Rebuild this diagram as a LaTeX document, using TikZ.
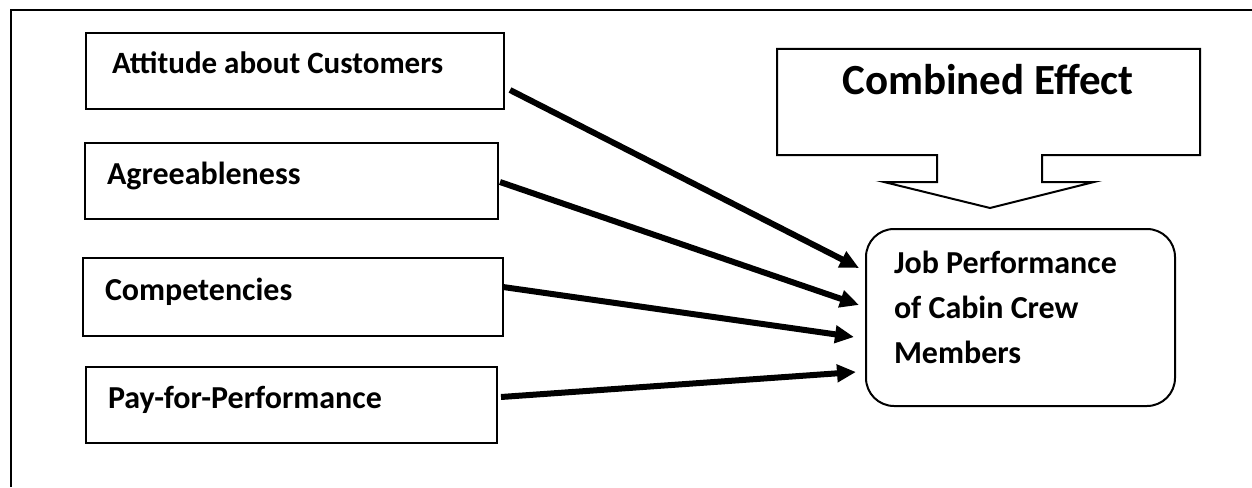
\documentclass[tikz,border=0pt]{standalone}
\usepackage{fontspec}
\setmainfont{Carlito}
\usetikzlibrary{arrows.meta}
\usetikzlibrary{calc}

\begin{document}
\begin{tikzpicture}[x=1pt,y=1pt,
  factor/.style={draw, line width=2pt, align=flush left, inner xsep=22pt, text height=20pt, text depth=14pt, minimum height=76pt, font=\fontsize{32}{38}\selectfont\bfseries},
  flow/.style={line width=6pt, -{Triangle[length=19pt,width=17pt]}}]
 \useasboundingbox (0,0) rectangle (1252,-487);
 % frame
 \draw[line width=2pt] (11,-487) -- (11,-10) -- (1252,-10);

 \node[factor, text width=366pt, inner xsep=26pt, font=\fontsize{31}{37}\selectfont\bfseries] (att) at (295,-71) {Attitude about Customers};
 \node[factor, text width=369pt] (agr) at (291.5,-181) {Agreeableness};
 \node[factor, text width=376pt, minimum height=78pt] (comp) at (293,-297) {Competencies};
 \node[factor, text width=367pt] (pay) at (291.5,-405) {Pay-for-Performance};

 \node[draw, line width=2pt, rounded corners=28pt, align=flush left, text width=253pt, inner xsep=28pt, minimum height=177pt, text height=21pt, text depth=110pt, font=\fontsize{32}{45}\selectfont\bfseries] (job) at (1020.5,-317.5) {Job Performance\\of Cabin Crew\\Members};

 % callout
 \draw[line width=2pt] (777,-49) -- (1200,-49) -- (1200,-155) -- (1042,-155) -- (1042,-182) -- (1094,-182) -- (990,-208) -- (884,-182) -- (937,-182) -- (937,-155) -- (777,-155) -- cycle;
 \node[font=\fontsize{43}{50}\selectfont\bfseries] (effect) at (988,-80) {Combined Effect};

 \draw[flow] ([shift={(5,-19)}]att.east) -- ([shift={(-6,49.5)}]job.west);
 \draw[flow] ([shift={(1,-1)}]agr.east) -- ([shift={(-6,12.5)}]job.west);
 \draw[flow] ([shift={(-1,10)}]comp.east) -- ([shift={(-11,-19.5)}]job.west);
 \draw[flow] ([shift={(3,8)}]pay.east) -- ([shift={(-9,-54.5)}]job.west);

\end{tikzpicture}
\end{document}
